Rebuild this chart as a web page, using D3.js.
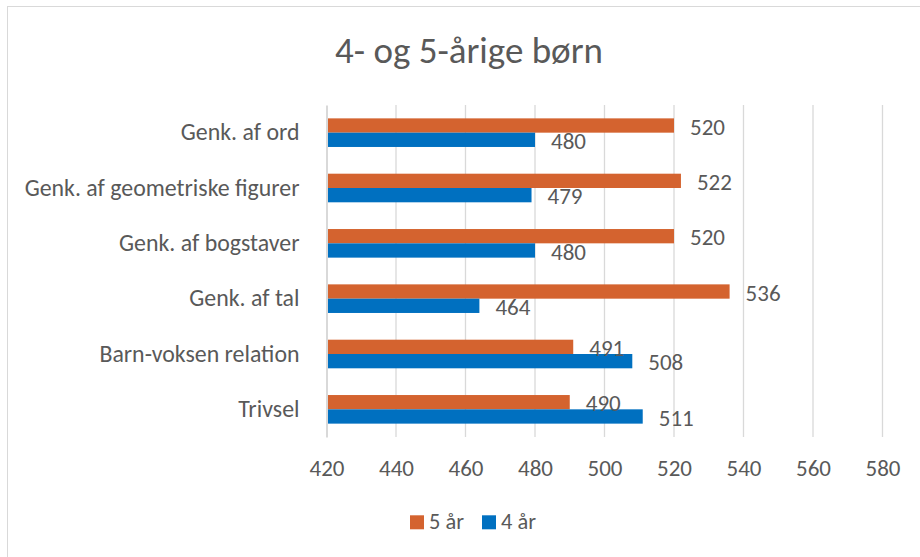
<!DOCTYPE html>
<html>
<head>
<meta charset="utf-8">
<script src="https://cdn.jsdelivr.net/npm/d3@7"></script>
<style>
  html, body { margin: 0; padding: 0; background: #fff; }
  svg { display: block; }
</style>
</head>
<body>
<script>
// ---- data ----
const title = "4- og 5-årige børn";
const categories = [
  "Genk. af ord",
  "Genk. af geometriske figurer",
  "Genk. af bogstaver",
  "Genk. af tal",
  "Barn-voksen relation",
  "Trivsel"
];
const seriesNames = ["5 år", "4 år"];
const values5 = [520, 522, 520, 536, 491, 490];
const values4 = [480, 479, 480, 464, 508, 511];
const xTicks = [420, 440, 460, 480, 500, 520, 540, 560, 580];
const colors = ["#D4632F", "#0070C0"];

// ---- setup ----
const W = 920, H = 557;
const FONT = "Carlito, Lato, 'Liberation Sans', sans-serif";
const TEXT = "#595959";
const GRID = "#d9d9d9";

const svg = d3.select("body").append("svg").attr("width", W).attr("height", H);

function fitSize(sample, target) {
  const t = svg.append("text").attr("font-family", FONT).attr("font-size", 100).text(sample);
  const w = t.node().getComputedTextLength();
  t.remove();
  return 100 * target / w;
}
const titleSize = fitSize(title, 268);
const catSize = fitSize("Genk. af geometriske figurer", 275);
const tickSize = fitSize("420", 35);
const legSize = fitSize("5 år", 35);

// chart border
svg.append("rect")
  .attr("x", 7.5).attr("y", 6.5).attr("width", W + 20).attr("height", H + 20)
  .attr("fill", "none").attr("stroke", GRID).attr("stroke-width", 1);

const plot = { left: 326.5, right: 882.5, top: 105, bottom: 437 };

const x = d3.scaleLinear().domain([420, 580]).range([plot.left, plot.right]);
const y = d3.scaleBand().domain(categories).range([plot.top, plot.bottom])
  .paddingInner(0.483).paddingOuter(0.2415);
const yInner = d3.scaleBand().domain(seriesNames).range([0, y.bandwidth()]);

// title
svg.append("text")
  .attr("x", 469).attr("y", 63.3)
  .attr("text-anchor", "middle")
  .attr("font-family", FONT).attr("font-size", titleSize)
  .attr("fill", TEXT)
  .text(title);

// gridlines
svg.append("g").selectAll("line").data(xTicks.slice(1)).join("line")
  .attr("x1", d => x(d)).attr("x2", d => x(d))
  .attr("y1", plot.top).attr("y2", plot.bottom)
  .attr("stroke", GRID).attr("stroke-width", 1.3);

// x axis labels
const xAxis = d3.axisBottom(x).tickValues(xTicks).tickSize(0).tickPadding(0).tickFormat(d3.format("d"));
const gx = svg.append("g").attr("transform", `translate(0,${plot.bottom})`).call(xAxis);
gx.select(".domain").remove();
gx.selectAll("text")
  .attr("font-family", FONT).attr("font-size", tickSize).attr("fill", TEXT)
  .attr("dy", null).attr("y", 475.7 - plot.bottom);

// bars
const rows = categories.map((c, i) => ({ cat: c, vals: [values5[i], values4[i]] }));
const groups = svg.append("g").selectAll("g").data(rows).join("g")
  .attr("transform", d => `translate(0,${y(d.cat)})`);

groups.selectAll("rect").data(d => d.vals.map((v, j) => ({ s: seriesNames[j], v, j }))).join("rect")
  .attr("x", x(420))
  .attr("y", d => yInner(d.s))
  .attr("width", d => x(d.v) - x(420))
  .attr("height", yInner.bandwidth())
  .attr("fill", d => colors[d.j]);

groups.selectAll("text").data(d => d.vals.map((v, j) => ({ s: seriesNames[j], v, j }))).join("text")
  .attr("x", d => x(d.v) + 16)
  .attr("y", d => yInner(d.s) + yInner.bandwidth() / 2 + 1)
  .attr("dy", "0.35em")
  .attr("font-family", FONT).attr("font-size", tickSize).attr("fill", TEXT)
  .text(d => d.v);

// category axis
const yAxis = d3.axisLeft(y).tickSize(0).tickPadding(27);
const gy = svg.append("g").attr("transform", `translate(${plot.left},0)`).call(yAxis);
gy.select(".domain").attr("stroke", GRID).attr("stroke-width", 2);
gy.selectAll("text").attr("font-family", FONT).attr("font-size", catSize).attr("fill", TEXT);

// legend
const legend = svg.append("g");
const legX = [410, 482];
seriesNames.forEach((s, i) => {
  legend.append("rect").attr("x", legX[i]).attr("y", 515.3).attr("width", 14).attr("height", 14).attr("fill", colors[i]);
  legend.append("text").attr("x", legX[i] + 19).attr("y", 529.3)
    .attr("font-family", FONT).attr("font-size", legSize).attr("fill", TEXT).text(s);
});
</script>
</body>
</html>
